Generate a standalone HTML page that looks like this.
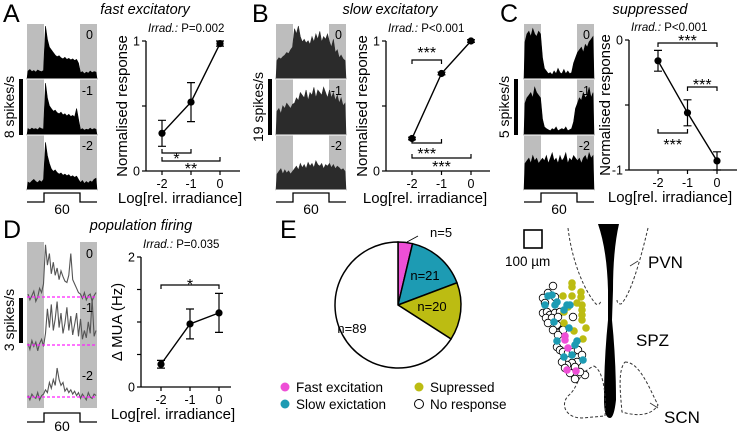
<!DOCTYPE html>
<html><head><meta charset="utf-8"><style>
html,body{margin:0;padding:0;background:#fff}
svg{display:block;font-family:"Liberation Sans",Arial,sans-serif}
</style></head><body>
<svg id="fig" width="750" height="431" viewBox="0 0 750 431" xmlns="http://www.w3.org/2000/svg">
<g id="static">
<text x="3" y="22" font-size="25">A</text>
<text x="252" y="22" font-size="25">B</text>
<text x="500" y="22" font-size="25">C</text>
<text x="3" y="238" font-size="25">D</text>
<text x="280" y="238" font-size="25">E</text>
<text x="145" y="14" font-size="14.5" font-style="italic" text-anchor="middle">fast excitatory</text>
<text x="390" y="14" font-size="14.5" font-style="italic" text-anchor="middle">slow excitatory</text>
<text x="650" y="14" font-size="14.5" font-style="italic" text-anchor="middle">suppressed</text>
<text x="141" y="230" font-size="14.5" font-style="italic" text-anchor="middle">population firing</text>
</g>
<g id="dyn"></g>
</svg>
<script>
// ---------- data ----------
const xCats = [-2, -1, 0];
const aVals = [0.29, 0.53, 0.98];
const aErr = [0.1, 0.15, 0.02];
const bVals = [0.25, 0.75, 1.0];
const bErr = [0.01, 0.01, 0.01];
const cVals = [-0.16, -0.56, -0.93];
const cErr = [0.08, 0.1, 0.07];
const dVals = [0.35, 0.97, 1.14];
const dErr = [0.06, 0.23, 0.3];
const pieLabels = ["n=5", "n=21", "n=20", "n=89"];
const pieCounts = [5, 21, 20, 89];
const pieColors = ["#ee4fd6", "#1d9bb3", "#bcbc12", "#ffffff"];
const psthA0 = [.15,.18,.14,.16,.13,.17,.15,.14,.16,1.0,.75,.6,.55,.5,.45,.42,.44,.40,.38,.41,.37,.39,.36,.38,.35,.37,.3,.12,.14,.1,.13,.11,.15,.12,.14,.13];
const psthA1 = [.12,.1,.13,.11,.12,.1,.14,.12,.11,.98,.7,.55,.5,.45,.47,.42,.4,.43,.38,.4,.36,.39,.35,.37,.34,.5,.3,.1,.12,.09,.11,.1,.13,.1,.12,.11];
const psthA2 = [.15,.13,.17,.2,.16,.14,.18,.15,.2,.9,.65,.5,.4,.35,.38,.33,.3,.32,.28,.3,.27,.29,.25,.27,.24,.26,.2,.14,.18,.12,.16,.13,.17,.15,.2,.22];
const psthB0 = [.35,.4,.38,.42,.45,.5,.48,.55,.6,.95,.85,1.0,.8,.7,.75,.68,.72,.65,.8,.7,.85,.75,.9,.7,.8,.75,.85,.7,.6,.75,.5,.55,.4,.45,.38,.35];
const psthB1 = [.45,.5,.4,.55,.5,.6,.55,.5,.58,.6,.7,.65,.8,.75,.7,.85,.65,.8,.75,.9,.7,.85,.8,.75,.9,.8,.7,.85,.7,.8,.65,.75,.6,.7,.55,.6];
const psthB2 = [.3,.35,.4,.3,.38,.32,.36,.3,.35,.4,.45,.38,.5,.42,.48,.4,.52,.45,.5,.42,.55,.48,.45,.5,.4,.48,.45,.5,.42,.48,.4,.45,.42,.38,.4,.35];
const psthC0 = [.7,.85,.9,.8,.95,.85,.8,.9,.85,.4,.2,.15,.1,.12,.08,.15,.1,.2,.12,.1,.18,.1,.15,.1,.12,.3,.4,.5,.55,.6,.5,.65,.6,.7,.75,.8];
const psthC1 = [.6,.7,.75,.8,.7,.9,.8,.75,.7,.3,.15,.12,.1,.08,.12,.1,.15,.08,.1,.12,.1,.15,.08,.1,.12,.25,.5,.6,.7,.65,.8,.7,.75,.9,.7,.8];
const psthC2 = [.5,.55,.6,.5,.65,.55,.6,.5,.55,.6,.55,.65,.5,.6,.7,.55,.6,.5,.65,.55,.6,.7,.5,.6,.55,.65,.6,.55,.6,.5,.6,.65,.55,.7,.6,.65];
const muaD0 = [.2,-.2,.1,.4,-.3,0,.6,.3,.9,3.6,2.2,3.0,1.6,2.4,1.5,2.0,1.2,1.8,1.4,1.1,1.0,1.5,3.0,1.2,.9,.6,.3,.2,-.1,.3,-.2,.1,.2,-.3,.1,.3];
const muaD1 = [.1,-.3,.3,-.1,.2,-.4,.1,.4,-.1,.8,2.5,1.2,2.8,1.0,1.8,3.0,1.2,2.2,.8,1.5,2.6,1.0,2.0,.7,1.4,2.2,.6,1.8,.4,1.0,.5,1.6,.8,3.2,.6,1.0];
const muaD2 = [.1,-.2,.2,0,-.1,.3,-.2,.1,.2,.5,.3,1.0,.6,1.2,.8,2.0,1.2,.8,1.0,.4,.6,.3,.5,.2,.4,.1,.3,-.1,.2,0,-.2,.3,0,-.1,.2,.1];
const cellX = [553,548,543,555,545,543,547,550,555,560,546,552,558,548,557,562,558,563,553,557,560,563,568,573,578,582,577,572,567,575,570,575,585,580,562,565,558,573,
  572,572,563,572,581,581,577,582,582,582,582,586,564,574,583,564,568,
  548,552,557,545,555,567,570,564,554,569,557,577,575,572,564,583,
  565,565,568,567,576];
const cellY = [286,293,298,297,303,313,312,315,313,312,318,318,317,323,325,330,333,330,330,347,350,352,353,352,350,355,362,363,365,367,373,379,375,372,362,368,335,317,
  283,287,296,296,292,297,303,305,310,315,320,328,312,331,339,323,307,
  296,295,302,305,305,305,305,310,322,328,341,341,345,355,357,360,
  336,340,348,370,371];
const cellT = ["n","n","n","n","n","n","n","n","n","n","n","n","n","n","n","n","n","n","n","n","n","n","n","n","n","n","n","n","n","n","n","n","n","n","n","n","n","n",
  "s","s","s","s","s","s","s","s","s","s","s","s","s","s","s","s","s",
  "l","l","l","l","l","l","l","l","l","l","l","l","l","l","l","l",
  "f","f","f","f","f"];
// ---------- helpers ----------
const NS = "http://www.w3.org/2000/svg";
const root = document.getElementById('dyn');
function mk(tag, attrs, parent) {
  const e = document.createElementNS(NS, tag);
  for (const k in attrs) e.setAttribute(k, attrs[k]);
  (parent || root).appendChild(e);
  return e;
}
function txt(x, y, s, size, parent, anchor, extra) {
  const t = mk('text', Object.assign({x: x, y: y, 'font-size': size, 'text-anchor': anchor || 'start'}, extra || {}), parent);
  t.textContent = s;
  return t;
}
// ---------- PSTH panels ----------
const rowsTop = [24, 80, 135];
const rowH = 55;
function psth(px, rows, fill, name, scaleX, scaleLabel) {
  const g = mk('g', {});
  
  
  const w = 70;
  mk('rect', {x: px, y: 24, width: 17, height: 166, fill: '#bdbdbd'}, g);
  mk('rect', {x: px + 53, y: 24, width: 17, height: 166, fill: '#bdbdbd'}, g);
  rows.forEach(function(vals, r) {
    const base = rowsTop[r] + rowH;
    const bw = w / vals.length;
    let d = 'M' + px + ',' + base;
    vals.forEach(function(v, i) {
      d += ' L' + (px + i * bw + bw / 2).toFixed(1) + ',' + (base - v * (rowH - 2)).toFixed(1);
    });
    d += ' L' + (px + w) + ',' + base + ' Z';
    const p = mk('path', {d: d, fill: fill, stroke: fill, 'stroke-width': 0.6}, g);
    
    
    mk('line', {x1: px, x2: px + w, y1: base, y2: base, stroke: '#fff', 'stroke-width': 1}, g);
  });
  ['0', '-1', '-2'].forEach(function(l, r) { txt(px + 66, rowsTop[r] + 15, l, 12.5, g, 'end'); });
  const sb = mk('rect', {x: scaleX, y: 79, width: 4, height: 56, fill: '#000'}, g);
  
  
  txt(0, 0, scaleLabel, 14, g, 'middle', {transform: 'translate(' + (scaleX - 5) + ',107) rotate(-90)'});
  mk('path', {d: 'M' + px + ',202 H' + (px + 17) + ' V193 H' + (px + 53) + ' V202 H' + (px + 70), fill: 'none', stroke: '#000', 'stroke-width': 1.3}, g);
  txt(px + 35, 214, '60', 14, g, 'middle');
}
psth(27, [psthA0, psthA1, psthA2], '#000', 'psth-fast-excitatory', 19, '8 spikes/s');
psth(276, [psthB0, psthB1, psthB2], '#2b2b2b', 'psth-slow-excitatory', 268, '19 spikes/s');
psth(524, [psthC0, psthC1, psthC2], '#000', 'psth-suppressed', 514, '5 spikes/s');
// Panel D traces
(function() {
  const g = mk('g', {});
  
  
  const px = 27, w = 70;
  mk('rect', {x: px, y: 242, width: 17, height: 166, fill: '#bdbdbd'}, g);
  mk('rect', {x: px + 53, y: 242, width: 17, height: 166, fill: '#bdbdbd'}, g);
  const bases = [297, 345, 397];
  [muaD0, muaD1, muaD2].forEach(function(vals, r) {
    const bw = w / vals.length;
    let d = '';
    vals.forEach(function(v, i) {
      d += (i ? ' L' : 'M') + (px + i * bw + bw / 2).toFixed(1) + ',' + (bases[r] - v * 14.5).toFixed(1);
    });
    const p = mk('path', {d: d, fill: 'none', stroke: '#555', 'stroke-width': 1.1}, g);
    
    
    mk('line', {x1: px, x2: px + w, y1: bases[r], y2: bases[r], stroke: '#ff20ff', 'stroke-width': 1.2, 'stroke-dasharray': '3,2'}, g);
  });
  ['0', '-1', '-2'].forEach(function(l, r) { txt(px + 66, [258, 312, 380][r], l, 12.5, g, 'end'); });
  mk('rect', {x: 19, y: 298, width: 4, height: 45, fill: '#000'}, g);
  txt(0, 0, '3 spikes/s', 14, g, 'middle', {transform: 'translate(14,320) rotate(-90)'});
  mk('path', {d: 'M27,422 H44 V413 H80 V422 H97', fill: 'none', stroke: '#000', 'stroke-width': 1.3}, g);
  txt(62, 431, '60', 14, g, 'middle');
})();
// ---------- line charts ----------
function lineChart(cfg) {
  const g = mk('g', {});
  
  
  const xs = function(v) { return cfg.x0 + (v + 2) * (cfg.x1 - cfg.x0) / 2; };
  const ys = function(v) { return cfg.yb + (v - cfg.vmin) * (cfg.yt - cfg.yb) / (cfg.vmax - cfg.vmin); };
  const ya = mk('line', {x1: cfg.ax, x2: cfg.ax, y1: cfg.yt, y2: cfg.yb, stroke: '#000', 'stroke-width': 1.3}, g);
  
  
  const xa = mk('line', {x1: cfg.ax, x2: cfg.xend, y1: cfg.xaxisY, y2: cfg.xaxisY, stroke: '#000', 'stroke-width': 1.3}, g);
  
  
  cfg.yticks.forEach(function(t, i) {
    mk('line', {x1: cfg.ax - 4, x2: cfg.ax, y1: ys(t), y2: ys(t), stroke: '#000', 'stroke-width': 1.2}, g);
    if (cfg.ytickLabels[i] !== '') txt(cfg.ax - 6, ys(t) + 4.5, cfg.ytickLabels[i], 12.5, g, 'end');
  });
  xCats.forEach(function(c) {
    mk('line', {x1: xs(c), x2: xs(c), y1: cfg.xaxisY, y2: cfg.xaxisY + 4, stroke: '#000', 'stroke-width': 1.2}, g);
    txt(xs(c), cfg.xaxisY + 17, String(c), 12.5, g, 'middle');
  });
  txt((cfg.ax + cfg.xend) / 2 - 13, cfg.xaxisY + 32, 'Log[rel. irradiance]', 15, g, 'middle');
  txt(0, 0, cfg.ylabel, 15, g, 'middle', {transform: 'translate(' + (cfg.ax - 19) + ',' + ((cfg.yt + cfg.yb) / 2) + ') rotate(-90)'});
  const pt = txt(cfg.ax + 2, cfg.yt - 9, '', 11.5, g, 'start');
  const it = mk('tspan', {'font-style': 'italic'}, pt); it.textContent = 'Irrad.:';
  const pv = mk('tspan', {}, pt); pv.textContent = ' ' + cfg.p;
  let d = '';
  cfg.vals.forEach(function(v, i) { d += (i ? ' L' : 'M') + xs(xCats[i]) + ',' + ys(v); });
  const ln = mk('path', {d: d, fill: 'none', stroke: '#000', 'stroke-width': 1.4}, g);
  
  
  cfg.vals.forEach(function(v, i) {
    const x = xs(xCats[i]);
    const e = cfg.err[i];
    mk('path', {d: 'M' + x + ',' + ys(v - e) + ' V' + ys(v + e) + ' M' + (x - 4) + ',' + ys(v - e) + ' H' + (x + 4) + ' M' + (x - 4) + ',' + ys(v + e) + ' H' + (x + 4), stroke: '#000', 'stroke-width': 1.2, fill: 'none'}, g);
    const c = mk('circle', {cx: x, cy: ys(v), r: 3.6, fill: '#000'}, g);
    
    
  });
  cfg.brackets.forEach(function(b) {
    const x1 = xs(b[0]), x2 = xs(b[1]), y = b[2], leg = b[3];
    mk('path', {d: 'M' + x1 + ',' + (y + leg) + ' V' + y + ' H' + x2 + ' V' + (y + leg), fill: 'none', stroke: '#000', 'stroke-width': 1.2}, g);
    txt((x1 + x2) / 2, b[5], b[4], 16, g, 'middle');
  });
}
lineChart({name: 'chart-fast-excitatory', ax: 146, x0: 162, x1: 220, xend: 240, yt: 41, yb: 171, xaxisY: 171, vmin: 0, vmax: 1,
  yticks: [0, 0.5, 1], ytickLabels: ['0', '', '1'], vals: aVals, err: aErr, ylabel: 'Normalised response', p: 'P=0.002',
  brackets: [[-2, -1, 153, -4, '*', 164], [-2, 0, 161, -4, '**', 174]]});
lineChart({name: 'chart-slow-excitatory', ax: 386, x0: 412, x1: 471, xend: 490, yt: 41, yb: 171, xaxisY: 171, vmin: 0, vmax: 1,
  yticks: [0, 0.5, 1], ytickLabels: ['0', '', '1'], vals: bVals, err: bErr, ylabel: 'Normalised response', p: 'P<0.001',
  brackets: [[-2, -1, 60, 4, '***', 58], [-2, -1, 143, -4, '***', 159], [-2, 0, 158, -4, '***', 172]]});
lineChart({name: 'chart-suppressed', ax: 629, x0: 658, x1: 717, xend: 737, yt: 40, yb: 170, xaxisY: 170, vmin: -1, vmax: 0,
  yticks: [-1, -0.5, 0], ytickLabels: ['-1', '', '0'], vals: cVals, err: cErr, ylabel: 'Normalised response', p: 'P<0.001',
  brackets: [[-2, 0, 43, 4, '***', 46], [-1, 0, 87, 4, '***', 90], [-2, -1, 133, -4, '***', 150]]});
lineChart({name: 'chart-population-mua', ax: 141, x0: 161, x1: 219, xend: 231, yt: 257, yb: 387, xaxisY: 387, vmin: 0, vmax: 2,
  yticks: [0, 0.5, 1, 1.5, 2], ytickLabels: ['0', '', '', '', '2'], vals: dVals, err: dErr, ylabel: 'Δ MUA (Hz)', p: 'P=0.035',
  brackets: [[-2, 0, 285, 4, '*', 290]]});
// ---------- pie ----------
(function() {
  const g = mk('g', {});
  
  
  const cx = 398, cy = 305, r = 63;
  const tot = pieCounts.reduce(function(a, b) { return a + b; }, 0);
  let a0 = 0;
  const labPos = [[430, 237], [425, 280], [432, 311], [352, 333]];
  pieCounts.forEach(function(n, i) {
    const a1 = a0 + n / tot * 2 * Math.PI;
    const p0 = [cx + r * Math.sin(a0), cy - r * Math.cos(a0)];
    const p1 = [cx + r * Math.sin(a1), cy - r * Math.cos(a1)];
    const large = (a1 - a0) > Math.PI ? 1 : 0;
    const s = mk('path', {d: 'M' + cx + ',' + cy + ' L' + p0[0] + ',' + p0[1] + ' A' + r + ',' + r + ' 0 ' + large + ' 1 ' + p1[0] + ',' + p1[1] + ' Z', fill: pieColors[i], stroke: '#000', 'stroke-width': 1.5}, g);
    
    
    txt(labPos[i][0], labPos[i][1], pieLabels[i], 13, g, i === 0 ? 'start' : 'middle');
    a0 = a1;
  });
  mk('line', {x1: 407, y1: 242, x2: 418, y2: 236, stroke: '#000', 'stroke-width': 0.8}, g);
  const leg = [['#ee4fd6', 'Fast excitation', 285, 388], ['#1d9bb3', 'Slow exictation', 285, 405], ['#bcbc12', 'Supressed', 419, 388], ['#fff', 'No response', 419, 405]];
  leg.forEach(function(l) {
    const e = mk('g', {}, g);
    
    
    mk('circle', {cx: l[2], cy: l[3] - 1, r: 4.5, fill: l[0], stroke: l[0] === '#fff' ? '#000' : 'none', 'stroke-width': 1}, e);
    txt(l[2] + 11, l[3] + 4, l[1], 13.5, e, 'start');
  });
})();
// ---------- anatomy ----------
(function() {
  const g = mk('g', {});
  
  
  mk('rect', {x: 524, y: 230, width: 18, height: 18, fill: 'none', stroke: '#000', 'stroke-width': 1.6}, g);
  txt(505, 266, '100 µm', 13.5, g, 'start');
  const v = mk('path', {d: 'M598,224 L619,224 Q613,250 613,290 L612,320 Q616,360 616,400 Q614,418 610,418 Q604,418 604,400 Q604,360 608,320 L608,290 Q607,250 598,224 Z', fill: '#000'}, g);
  
  
  const ds = {fill: 'none', stroke: '#333', 'stroke-width': 1, 'stroke-dasharray': '3,2'};
  mk('path', Object.assign({d: 'M568,228 C572,262 585,292 596,304 Q600,306 601,300'}, ds), g);
  mk('path', Object.assign({d: 'M648,228 C640,262 630,296 621,304 Q617,304 617,300'}, ds), g);
  mk('path', Object.assign({d: 'M594,366 C605,372 606,400 605,416 L582,418 C566,418 560,405 568,396 C580,386 575,375 594,366'}, ds), g);
  mk('path', Object.assign({d: 'M625,362 C640,362 650,390 658,405 C650,418 632,415 622,412 C620,390 618,370 625,362'}, ds), g);
  mk('line', {x1: 630, y1: 266, x2: 638, y2: 261, stroke: '#333', 'stroke-width': 0.8}, g);
  mk('line', {x1: 650, y1: 403, x2: 658, y2: 408, stroke: '#333', 'stroke-width': 0.8}, g);
  txt(648, 268, 'PVN', 17, g, 'start');
  txt(636, 346, 'SPZ', 17, g, 'start');
  txt(664, 423, 'SCN', 17, g, 'start');
  const col = {s: '#bcbc12', l: '#1d9bb3', f: '#ee4fd6', n: '#fff'};
  const order = ['n', 's', 'l', 'f'];
  order.forEach(function(t) {
    cellT.forEach(function(tt, i) {
      if (tt !== t) return;
      const c = mk('circle', {cx: cellX[i], cy: cellY[i], r: 3.8, fill: col[t], stroke: t === 'n' ? '#000' : 'none', 'stroke-width': 0.8}, g);
      
      
    });
  });
})();
</script>
</body></html>
